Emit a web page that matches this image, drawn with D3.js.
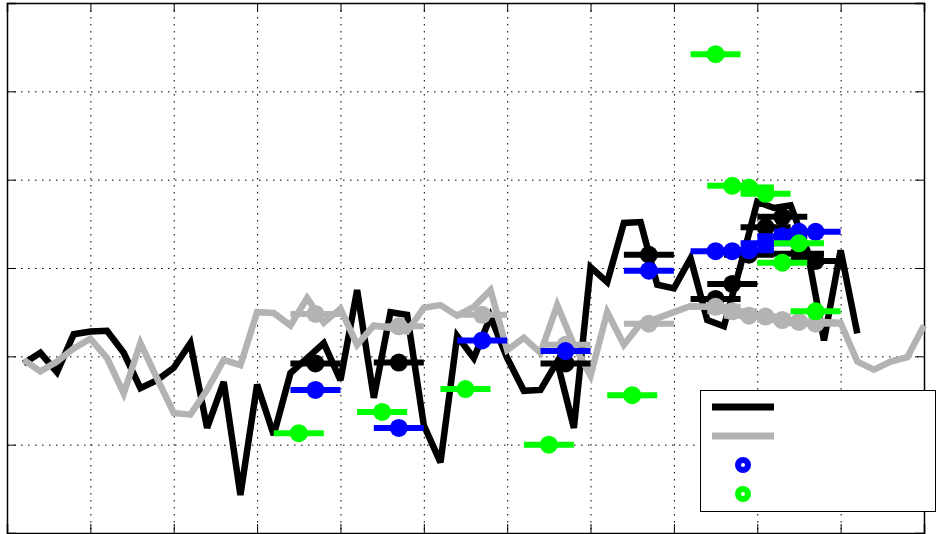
<!DOCTYPE html>
<html>
<head>
<meta charset="utf-8">
<script src="https://cdn.jsdelivr.net/npm/d3@7"></script>
<style>
  html, body { margin: 0; padding: 0; background: #fff; }
  svg { display: block; }
</style>
</head>
<body>
<svg id="chart" width="940" height="534"></svg>
<script>
// Line series sampled every 0.2 along x
const blackStart = 0.2;
const blackValues = [1.92, 2.04, 1.82, 2.25, 2.28, 2.29, 2.04, 1.64, 1.73, 1.87,
  2.15, 1.19, 1.71, 0.43, 1.68, 1.11, 1.81, 1.98, 2.15, 1.73,
  2.75, 1.53, 2.50, 2.47, 1.22, 0.80, 2.23, 1.98, 2.45, 1.98,
  1.61, 1.62, 1.94, 1.19, 3.01, 2.84, 3.51, 3.52, 2.81, 2.77,
  3.11, 2.41, 2.34, 3.03, 3.75, 3.68, 3.71, 3.20, 2.18, 3.20, 2.26];

const grayStart = 0.2;
const grayValues = [1.96, 1.83, 1.94, 2.09, 2.20, 1.98, 1.58, 2.15, 1.75, 1.36,
  1.34, 1.62, 1.96, 1.90, 2.50, 2.49, 2.35, 2.66, 2.38, 2.54,
  2.13, 2.35, 2.32, 2.28, 2.55, 2.58, 2.46, 2.56, 2.75, 2.07,
  2.21, 2.04, 2.58, 2.13, 1.78, 2.50, 2.13, 2.37, 2.43, 2.50,
  2.57, 2.56, 2.52, 2.49, 2.45, 2.41, 2.38, 2.38, 2.39, 2.38,
  1.94, 1.85, 1.94, 1.99, 2.35];

// Interval estimates: centre x, value, half-width of the interval
const halfWidth = 0.3;
const blackMarkX = [3.7, 4.7, 6.7, 7.7, 8.5, 8.7, 8.9, 9.1, 9.3, 9.5, 9.7];
const blackMarkY = [1.92, 1.93, 1.92, 3.15, 2.65, 2.82, 3.15, 3.46, 3.58, 3.16, 3.08];

const grayMarkX = [3.7, 4.7, 5.7, 6.7, 7.7, 8.5, 8.7, 8.9, 9.1, 9.3, 9.5, 9.7];
const grayMarkY = [2.48, 2.34, 2.47, 2.13, 2.37, 2.56, 2.51, 2.46, 2.45, 2.41, 2.39, 2.37];

const blueMarkX = [3.7, 4.7, 5.7, 6.7, 7.7, 8.5, 8.7, 8.9, 9.1, 9.3, 9.5, 9.7];
const blueMarkY = [1.62, 1.19, 2.18, 2.06, 2.97, 3.19, 3.19, 3.20, 3.28, 3.36, 3.41, 3.41];

const greenMarkX = [3.5, 4.5, 5.5, 6.5, 7.5, 8.5, 8.7, 8.9, 9.1, 9.3, 9.5, 9.7];
const greenMarkY = [1.13, 1.37, 1.63, 1.00, 1.56, 5.42, 3.93, 3.91, 3.84, 3.06, 3.28, 2.51];

const xTicks = [0, 1, 2, 3, 4, 5, 6, 7, 8, 9, 10, 11];
const yTicks = [0, 1, 2, 3, 4, 5, 6];

const colors = { black: "#000000", gray: "#b3b3b3", blue: "#0000ff", green: "#00ff00" };

const svg = d3.select("#chart");
const plotLeft = 7, plotRight = 924, plotTop = 3, plotBottom = 533;

const x = d3.scaleLinear().domain([0, 11]).range([plotLeft, plotRight]);
const y = d3.scaleLinear().domain([0, 6]).range([plotBottom, plotTop]);

// Grid
const grid = svg.append("g").attr("stroke", "#000").attr("stroke-width", 1)
  .attr("stroke-dasharray", "1.5,5.5");
grid.selectAll("line.vx").data(xTicks.slice(1, -1)).join("line")
  .attr("x1", d => x(d) + 0.5).attr("x2", d => x(d) + 0.5)
  .attr("y1", plotTop).attr("y2", plotBottom);
grid.selectAll("line.hy").data(yTicks.slice(1, -1)).join("line")
  .attr("y1", d => y(d) + 0.5).attr("y2", d => y(d) + 0.5)
  .attr("x1", plotLeft).attr("x2", plotRight);

// Axes with inward ticks on all four sides, no labels
const tk = 9;
svg.append("g").attr("transform", `translate(0,${plotBottom})`)
  .call(d3.axisBottom(x).tickValues(xTicks).tickSize(-tk).tickFormat(""));
svg.append("g").attr("transform", `translate(0,${plotTop})`)
  .call(d3.axisTop(x).tickValues(xTicks).tickSize(-tk).tickFormat(""));
svg.append("g").attr("transform", `translate(${plotLeft},0)`)
  .call(d3.axisLeft(y).tickValues(yTicks).tickSize(-tk).tickFormat(""));
svg.append("g").attr("transform", `translate(${plotRight},0)`)
  .call(d3.axisRight(y).tickValues(yTicks).tickSize(-tk).tickFormat(""));
svg.selectAll(".domain").attr("stroke", "#000").attr("stroke-width", 1.5);
svg.selectAll(".tick line").attr("stroke", "#000").attr("stroke-width", 1);

const line = d3.line().x(d => x(d[0])).y(d => y(d[1]));

function series(start, vals) {
  return vals.map((v, i) => [start + 0.2 * i, v]);
}

const plot = svg.append("g");
plot.append("path").datum(series(blackStart, blackValues))
  .attr("d", line).attr("fill", "none").attr("stroke", colors.black)
  .attr("stroke-width", 6.5).attr("stroke-linejoin", "miter").attr("stroke-miterlimit", 3);
plot.append("path").datum(series(grayStart, grayValues))
  .attr("d", line).attr("fill", "none").attr("stroke", colors.gray)
  .attr("stroke-width", 6.5).attr("stroke-linejoin", "miter").attr("stroke-miterlimit", 3);

function intervals(xs, ys, color) {
  const data = xs.map((d, i) => [d, ys[i]]);
  const g = plot.append("g");
  g.selectAll("line").data(data).join("line")
    .attr("x1", d => x(d[0] - halfWidth)).attr("x2", d => x(d[0] + halfWidth))
    .attr("y1", d => y(d[1])).attr("y2", d => y(d[1]))
    .attr("stroke", color).attr("stroke-width", 6);
  g.selectAll("circle").data(data).join("circle")
    .attr("cx", d => x(d[0])).attr("cy", d => y(d[1])).attr("r", 9)
    .attr("fill", color);
}
intervals(blackMarkX, blackMarkY, colors.black);
intervals(grayMarkX, grayMarkY, colors.gray);
intervals(blueMarkX, blueMarkY, colors.blue);
intervals(greenMarkX, greenMarkY, colors.green);

// Legend
const lg = svg.append("g");
lg.append("rect").attr("x", 700.5).attr("y", 390.5).attr("width", 235).attr("height", 121)
  .attr("fill", "#fff").attr("stroke", "#000").attr("stroke-width", 1);
lg.append("line").attr("x1", 712).attr("x2", 774).attr("y1", 407).attr("y2", 407)
  .attr("stroke", colors.black).attr("stroke-width", 7);
lg.append("line").attr("x1", 712).attr("x2", 774).attr("y1", 436).attr("y2", 436)
  .attr("stroke", colors.gray).attr("stroke-width", 7);
lg.append("circle").attr("cx", 743).attr("cy", 465).attr("r", 5)
  .attr("fill", "#fff").attr("stroke", colors.blue).attr("stroke-width", 6);
lg.append("circle").attr("cx", 743).attr("cy", 494).attr("r", 5)
  .attr("fill", "#fff").attr("stroke", colors.green).attr("stroke-width", 6);
</script>
</body>
</html>
